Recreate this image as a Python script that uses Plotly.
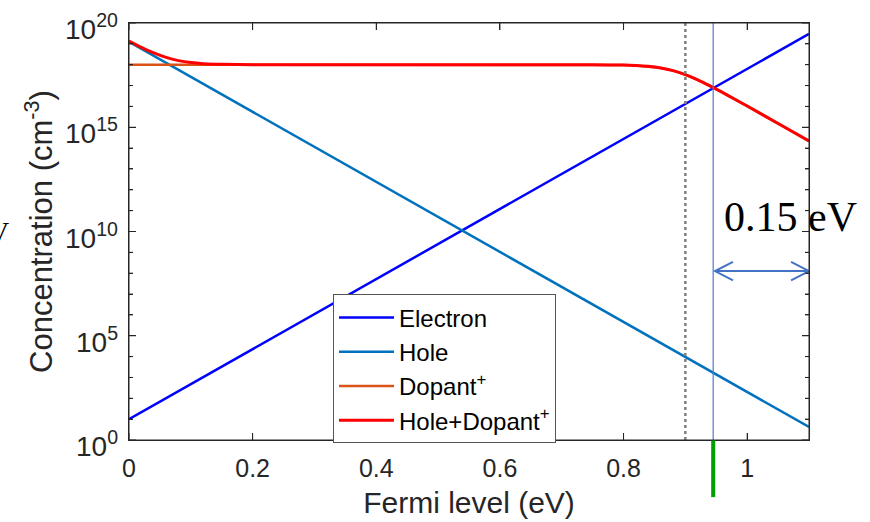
import math
import plotly.graph_objects as go

# ---------------- data ----------------
fermi_line = [0.0, 1.1]
electron = [10.0, 3.0e19]
hole = [1.26e19, 4.2]

fermi_dop = [0.0, 0.2, 0.4, 0.6, 0.7, 0.75, 0.8, 0.82, 0.84, 0.86, 0.88, 0.9,
             0.92, 0.94, 0.96, 0.98, 1.0, 1.05, 1.1]
dopant = [1.0e18, 1.0e18, 1.0e18, 1.0e18, 1.0e18, 9.93e17, 9.59e17, 9.16e17,
          8.36e17, 7.02e17, 5.20e17, 3.33e17, 1.88e17, 9.62e16, 4.68e16,
          2.21e16, 1.04e16, 1.51e15, 2.18e14]

fermi_sum = [0.0, 0.02, 0.04, 0.06, 0.08, 0.1, 0.12, 0.15, 0.2, 0.4, 0.6, 0.7,
             0.75, 0.8, 0.82, 0.84, 0.86, 0.88, 0.9, 0.92, 0.94, 0.96, 0.98,
             1.0, 1.05, 1.1]
hole_dopant = [1.36e19, 6.81e18, 3.68e18, 2.24e18, 1.57e18, 1.26e18, 1.12e18,
               1.04e18, 1.0e18, 1.0e18, 1.0e18, 1.0e18, 9.93e17, 9.59e17,
               9.16e17, 8.36e17, 7.02e17, 5.20e17, 3.33e17, 1.88e17, 9.62e16,
               4.68e16, 2.21e16, 1.04e16, 1.51e15, 2.18e14]

x_ticks = [0, 0.2, 0.4, 0.6, 0.8, 1]
y_major = [1e0, 1e5, 1e10, 1e15, 1e20]
y_major_text = ["10<sup>0</sup>", "10<sup>5</sup>", "10<sup>10</sup>",
                "10<sup>15</sup>", "10<sup>20</sup>"]
y_minor = [10.0 ** k for k in range(21)]

x_range = [0, 1.1]
y_log_range = [0, 20]

ionization_level = 0.9
fermi_marker = 0.945
arrow_end = 1.1
arrow_label = "0.15 eV"

# ---------------- figure ----------------
FONT = "Liberation Sans, Arial, sans-serif"
SERIF = "Liberation Serif, Times New Roman, serif"
AX = "#262626"
PLOT_W = 870 - 129 - 61
PLOT_H = 522 - 23 - 82

fig = go.Figure()
fig.add_trace(go.Scatter(x=fermi_line, y=electron, mode="lines", name="Electron",
                         line=dict(color="#0000FF", width=2.5)))
fig.add_trace(go.Scatter(x=fermi_line, y=hole, mode="lines", name="Hole",
                         line=dict(color="#0072BD", width=2.5)))
fig.add_trace(go.Scatter(x=fermi_dop, y=dopant, mode="lines", name="Dopant<sup>+</sup>",
                         line=dict(color="#D95319", width=2.5)))
fig.add_trace(go.Scatter(x=fermi_sum, y=hole_dopant, mode="lines",
                         name="Hole+Dopant<sup>+</sup>",
                         line=dict(color="#FF0000", width=3, shape="spline", smoothing=0.5)))

# vertical dotted line at ionization level
fig.add_shape(type="line", xref="x", yref="paper", x0=ionization_level, x1=ionization_level,
              y0=0, y1=1, line=dict(color="#808080", width=2.5, dash="dot"))
# thin blue vertical line at Fermi level
fig.add_shape(type="line", xref="x", yref="paper", x0=fermi_marker, x1=fermi_marker,
              y0=0, y1=1, line=dict(color="#4A7BD0", width=1.2))
# green tick below the axis
fig.add_shape(type="line", xref="x", yref="paper", x0=fermi_marker, x1=fermi_marker,
              y0=0, y1=-0.137, line=dict(color="#00A000", width=4))

# double arrow
ay = 0.405
dx = 0.029
dy = 0.022
acol = "#4472C4"
x_start = fermi_marker + 0.003
fig.add_shape(type="line", xref="x", yref="paper", x0=x_start, x1=arrow_end,
              y0=ay, y1=ay, line=dict(color=acol, width=2))
fig.add_shape(type="path", xref="x", yref="paper",
              path=f"M {x_start + dx},{ay + dy} L {x_start},{ay} L {x_start + dx},{ay - dy}",
              line=dict(color=acol, width=2))
fig.add_shape(type="path", xref="x", yref="paper",
              path=f"M {arrow_end - dx},{ay + dy} L {arrow_end},{ay} L {arrow_end - dx},{ay - dy}",
              line=dict(color=acol, width=2))

# axes frame (box) and inside ticks on all four sides
fig.add_shape(type="rect", xref="paper", yref="paper", x0=0, x1=1, y0=0, y1=1,
              line=dict(color=AX, width=1), fillcolor="rgba(0,0,0,0)", layer="above")
maj_x = 7 / PLOT_W
min_x = 4 / PLOT_W
maj_y = 7 / PLOT_H
for v in y_minor:
    f = (math.log10(v) - y_log_range[0]) / (y_log_range[1] - y_log_range[0])
    ln = maj_x if v in y_major else min_x
    for a, b in ((0, ln), (1 - ln, 1)):
        fig.add_shape(type="line", xref="paper", yref="paper", x0=a, x1=b, y0=f, y1=f,
                      line=dict(color=AX, width=1), layer="above")
for t in x_ticks:
    for a, b in ((0, maj_y), (1 - maj_y, 1)):
        fig.add_shape(type="line", xref="x", yref="paper", x0=t, x1=t, y0=a, y1=b,
                      line=dict(color=AX, width=1), layer="above")

fig.add_annotation(xref="paper", yref="paper", x=0.973, y=0.535, text=arrow_label,
                   showarrow=False, xanchor="center", yanchor="middle",
                   font=dict(family=SERIF, size=42, color="#000000"))
# partially cut text at left edge
fig.add_annotation(xref="paper", yref="paper", x=-0.173, y=0.50, text="V",
                   showarrow=False, xanchor="right", yanchor="middle",
                   font=dict(family=SERIF, size=28, color="#000000"))

# y tick labels (MATLAB-style, whole label centred on the tick)
for val, txt in zip(y_major, y_major_text):
    fig.add_annotation(xref="paper", yref="y", x=0, y=math.log10(val), text=txt,
                       showarrow=False, xanchor="right", yanchor="middle",
                       xshift=-9, yshift=-4,
                       font=dict(family=FONT, size=28, color=AX))

fig.update_layout(
    width=870, height=522,
    margin=dict(l=129, r=61, t=23, b=82, autoexpand=False),
    paper_bgcolor="white", plot_bgcolor="white",
    font=dict(family=FONT, size=25, color=AX),
    showlegend=True,
    legend=dict(x=0.30, y=0.349, xanchor="left", yanchor="top",
                bgcolor="white", bordercolor="#555555", borderwidth=1,
                font=dict(family=FONT, size=24, color="#000000"),
                itemwidth=55),
)
fig.update_xaxes(range=x_range, tickvals=x_ticks, ticks="inside", ticklen=7,
                 tickcolor=AX, showline=True, linecolor=AX, linewidth=1, mirror="ticks",
                 showgrid=False, zeroline=False, automargin=False,
                 ticklabelstandoff=6,
                 tickfont=dict(size=25, color=AX),
                 title=dict(text="Fermi level (eV)", font=dict(size=30, color=AX), standoff=10))
fig.update_yaxes(type="log", range=y_log_range, tickmode="array", tickvals=y_major,
                 showticklabels=False, ticks="inside", ticklen=7, tickcolor=AX,
                 minor=dict(tickmode="array", tickvals=y_minor, ticks="inside", ticklen=4,
                            tickcolor=AX, showgrid=False),
                 showline=True, linecolor=AX, linewidth=1, mirror="ticks",
                 showgrid=False, zeroline=False, automargin=False,
                 title=dict(text="Concentration (cm<sup>-3</sup>)", font=dict(size=31, color=AX),
                            standoff=66))

fig.write_html("out.html", post_script="document.body.style.margin='0';",
               config={"displayModeBar": False})
